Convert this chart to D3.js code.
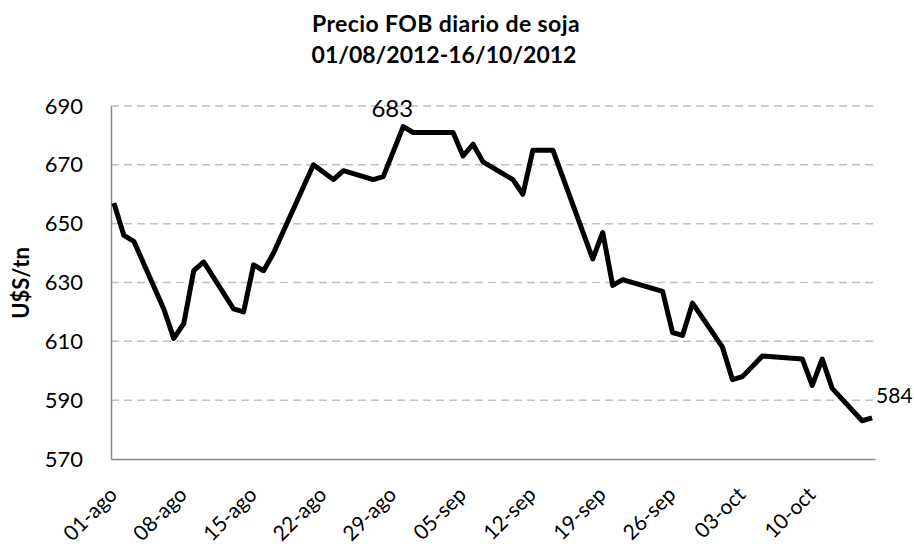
<!DOCTYPE html>
<html>
<head>
<meta charset="utf-8">
<script src="https://cdn.jsdelivr.net/npm/d3@7"></script>
<style>
  body { margin: 0; background: #fff; }
  svg { display: block; font-family: Lato, "Open Sans", sans-serif; }
</style>
</head>
<body>
<script>
let width = 914;
let height = 547;

// datos
let dates = [
  "2012-08-01", "2012-08-02", "2012-08-03", "2012-08-06", "2012-08-07", "2012-08-08",
  "2012-08-09", "2012-08-10", "2012-08-13", "2012-08-14", "2012-08-15", "2012-08-16",
  "2012-08-17", "2012-08-21", "2012-08-23", "2012-08-24", "2012-08-27", "2012-08-28",
  "2012-08-30", "2012-08-31", "2012-09-03", "2012-09-04", "2012-09-05",
  "2012-09-06", "2012-09-07", "2012-09-10", "2012-09-11", "2012-09-12", "2012-09-13",
  "2012-09-14", "2012-09-18", "2012-09-19", "2012-09-20", "2012-09-21", "2012-09-25",
  "2012-09-26", "2012-09-27", "2012-09-28", "2012-10-01", "2012-10-02", "2012-10-03",
  "2012-10-05", "2012-10-09", "2012-10-10", "2012-10-11", "2012-10-12", "2012-10-15",
  "2012-10-16"
];
let prices = [
  657, 646, 644, 621, 611, 616,
  634, 637, 621, 620, 636, 634,
  640, 670, 665, 668, 665, 666,
  683, 681, 681, 681, 673,
  677, 671, 665, 660, 675, 675,
  675, 638, 647, 629, 631, 627,
  613, 612, 623, 608, 597, 598,
  605, 604, 595, 604, 594, 583,
  584
];
let xTickDates = ["2012-08-01", "2012-08-08", "2012-08-15", "2012-08-22", "2012-08-29",
  "2012-09-05", "2012-09-12", "2012-09-19", "2012-09-26", "2012-10-03", "2012-10-10"];
let yTicks = [570, 590, 610, 630, 650, 670, 690];
let labelDates = ["2012-08-30", "2012-10-16"];
let labelValues = [683, 584];

let parse = d3.timeParse("%Y-%m-%d");
let monthNames = ["ene", "feb", "mar", "abr", "may", "jun", "jul", "ago", "sep", "oct", "nov", "dic"];
let fmt = (d) => d3.timeFormat("%d")(d) + "-" + monthNames[d.getMonth()];

let data = dates.map((d, i) => ({ date: parse(d), value: prices[i] }));

let plot = { left: 111, right: 875, top: 106, bottom: 459 };

let svg = d3.select("body").append("svg")
  .attr("width", width)
  .attr("height", height);

let scaleX = d3.scaleTime()
  .domain([d3.timeHour.offset(parse(dates[0]), -7), d3.timeHour.offset(parse(dates[dates.length - 1]), 7)])
  .range([plot.left, plot.right]);

let scaleY = d3.scaleLinear()
  .domain([570, 690])
  .range([plot.bottom, plot.top]);

// titulo
svg.append("text")
  .text("Precio FOB diario de soja")
  .attr("x", 446)
  .attr("y", 32)
  .attr("text-anchor", "middle")
  .attr("font-size", "23px")
  .attr("letter-spacing", "0.4px")
  .attr("font-weight", "bold");
svg.append("text")
  .text("01/08/2012-16/10/2012")
  .attr("x", 444)
  .attr("y", 63)
  .attr("text-anchor", "middle")
  .attr("font-size", "23px")
  .attr("font-weight", "bold");

// grilla
svg.append("g")
  .selectAll("line")
  .data(yTicks.slice(1))
  .enter().append("line")
  .attr("x1", plot.left)
  .attr("x2", plot.right)
  .attr("y1", (d) => scaleY(d))
  .attr("y2", (d) => scaleY(d))
  .attr("stroke", "#c0c0c0")
  .attr("stroke-width", 1.5)
  .attr("stroke-dasharray", "8,5");

// ejes
let yAxis = svg.append("g")
  .attr("transform", "translate(" + plot.left + ",0)")
  .call(d3.axisLeft(scaleY).tickValues(yTicks).tickSize(0).tickPadding(28));
yAxis.select(".domain").attr("stroke", "#868686").attr("stroke-width", 1.5);
yAxis.selectAll("text")
  .attr("font-family", "Lato, sans-serif")
  .attr("font-size", "22px")
  .attr("fill", "#000");

let xAxis = svg.append("g")
  .attr("transform", "translate(0," + plot.bottom + ")")
  .call(d3.axisBottom(scaleX).tickValues(xTickDates.map(parse)).tickFormat(fmt).tickSize(0).tickSizeOuter(0));
xAxis.select(".domain").attr("stroke", "#868686").attr("stroke-width", 1.5);
xAxis.selectAll("text")
  .attr("font-family", "Lato, sans-serif")
  .attr("font-size", "21px")
  .attr("fill", "#000")
  .attr("text-anchor", "end")
  .attr("y", 0)
  .attr("dy", 0)
  .attr("transform", "translate(4,37) rotate(-45)");

svg.append("text")
  .text("U$S/tn")
  .attr("transform", "translate(29,283) rotate(-90)")
  .attr("text-anchor", "middle")
  .attr("font-size", "22px")
  .attr("font-weight", "bold");

// linea
let line = d3.line()
  .x((d) => scaleX(d.date))
  .y((d) => scaleY(d.value));

svg.append("path")
  .datum(data)
  .attr("d", line)
  .attr("fill", "none")
  .attr("stroke", "#000")
  .attr("stroke-width", 5)
  .attr("stroke-linejoin", "round");

// etiquetas
svg.append("text")
  .text(labelValues[0])
  .attr("x", scaleX(parse(labelDates[0])) + 10)
  .attr("y", scaleY(labelValues[0]) - 10)
  .attr("text-anchor", "end")
  .attr("font-size", "24px");
svg.append("text")
  .text(labelValues[1])
  .attr("x", scaleX(parse(labelDates[1])) + 4)
  .attr("y", scaleY(labelValues[1]) - 15)
  .attr("text-anchor", "start")
  .attr("font-size", "21px");
</script>
</body>
</html>
